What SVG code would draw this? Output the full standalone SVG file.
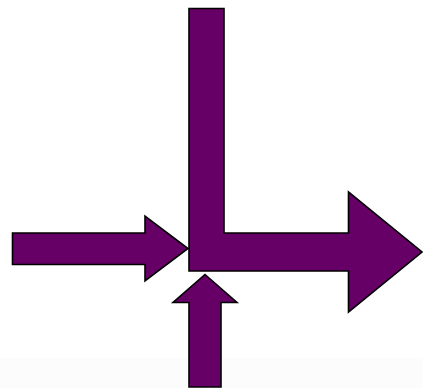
<svg xmlns="http://www.w3.org/2000/svg" width="423" height="388" viewBox="0 0 423 388">
<style>
.a{fill:#660066;stroke:#000;stroke-width:1.6;stroke-linejoin:miter}
</style>
<rect width="423" height="388" fill="#fff"/>
<rect y="358" width="423" height="30" fill="#fcfcfc"/>
<g id="main-arrow"><polygon class="a" points="189,8.5 224,8.5 224,233 348.5,233 348.5,192 422,252 348.5,312 348.5,271 189,271"/></g>
<g id="left-arrow"><polygon class="a" points="12.5,233 145,233 145,216 188,248.5 145,281 145,264.5 12.5,264.5"/></g>
<g id="bottom-arrow"><polygon class="a" points="205,274.5 237,302.5 221,302.5 221,387 189,387 189,302.5 173,302.5"/></g>
</svg>
